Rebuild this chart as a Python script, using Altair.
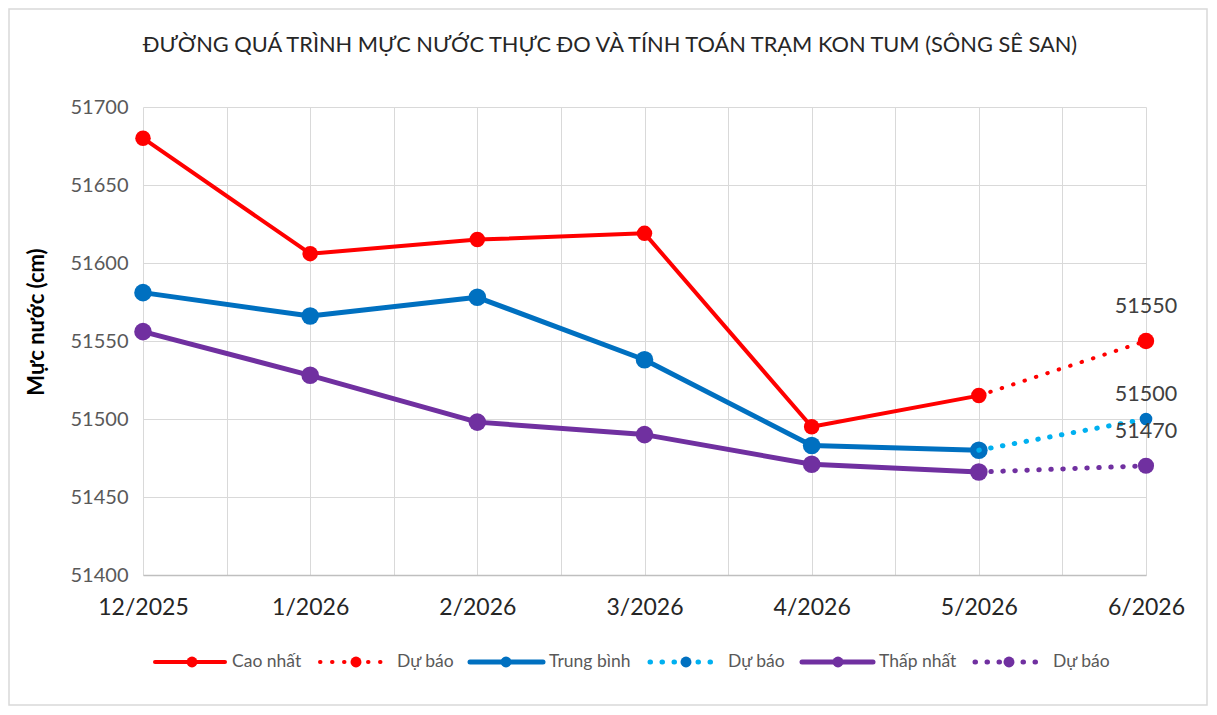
import altair as alt
import pandas as pd
import numpy as np

# ---- data ----
months = ["12/2025", "1/2026", "2/2026", "3/2026", "4/2026", "5/2026", "6/2026"]
cao_nhat = [51680, 51606, 51615, 51619, 51495, 51515]
trung_binh = [51581, 51566, 51578, 51538, 51483, 51480]
thap_nhat = [51556, 51528, 51498, 51490, 51471, 51466]
du_bao_cao = 51550
du_bao_tb = 51500
du_bao_thap = 51470
title_text = "ĐƯỜNG QUÁ TRÌNH MỰC NƯỚC THỰC ĐO VÀ TÍNH TOÁN TRẠM KON TUM (SÔNG SÊ SAN)"
y_title = "Mực nước (cm)"

FONT = "Lato"
W, H = 1003, 468

labels_js = "[" + ",".join("'" + m + "'" for m in months) + "]"
x_scale = alt.Scale(domain=[0, 6], nice=False, zero=False)
y_scale = alt.Scale(domain=[51400, 51700], nice=False, zero=False)

x_axis = alt.Axis(values=[float(v) for v in np.arange(0, 6.5, 0.5)], grid=True, gridColor="#d9d9d9",
                  gridWidth=1, domainColor="#bfbfbf", domainWidth=1.5, ticks=False,
                  labelExpr="datum.value % 1 == 0 ? " + labels_js + "[datum.value] : ''",
                  labelFont=FONT, labelFontSize=23, labelColor="#262626", labelPadding=21,
                  title=None, labelFlush=False, labelOverlap=False)
y_axis = alt.Axis(values=list(range(51400, 51701, 50)), grid=True, gridColor="#d9d9d9",
                  gridWidth=1, domain=False, ticks=False, labelFont=FONT, labelFontSize=20,
                  labelColor="#595959", labelPadding=15, title=None, format="d")


def series_df(vals, name):
    return pd.DataFrame({"idx": list(range(len(vals))), "value": vals, "series": name})


def fc_df(last, fc, name):
    return pd.DataFrame({"idx": [5, 6], "value": [last, fc], "series": name})


layers = []

# border
layers.append(alt.Chart(pd.DataFrame({"a": [0]})).mark_rect(fill=None, stroke="#d9d9d9", strokeWidth=1.5).encode(
    x=alt.value(-134), x2=alt.value(1064), y=alt.value(-98), y2=alt.value(598)))

# axes carrier
base = alt.Chart(series_df(cao_nhat, "Cao nhất"))
layers.append(base.mark_point(opacity=0).encode(
    x=alt.X("idx:Q", scale=x_scale, axis=x_axis),
    y=alt.Y("value:Q", scale=y_scale, axis=y_axis)))

specs = [
    (cao_nhat, du_bao_cao, "#FF0000", "#FF0000", "#FF0000", 4, 240, 270, "Cao nhất"),
    (trung_binh, du_bao_tb, "#0070C0", "#00B0F0", "#0070C0", 5, 310, 160, "Trung bình"),
    (thap_nhat, du_bao_thap, "#7030A0", "#7030A0", "#7030A0", 5, 310, 260, "Thấp nhất"),
]

for vals, fc, col, fcol, fmcol, w, ms, fms, name in specs:
    d = series_df(vals, name)
    f = fc_df(vals[-1], fc, name + " dự báo")
    enc = dict(x=alt.X("idx:Q", scale=x_scale), y=alt.Y("value:Q", scale=y_scale))
    layers.append(alt.Chart(d).mark_line(color=col, strokeWidth=w, strokeJoin="round",
                                         strokeCap="round").encode(**enc))
    layers.append(alt.Chart(d).mark_circle(color=col, opacity=1, size=ms).encode(**enc))
    layers.append(alt.Chart(f).mark_line(color=fcol, strokeWidth=w, strokeDash=[0.5, 11.5],
                                         strokeCap="round").encode(**enc))
    layers.append(alt.Chart(f[f.idx == 6]).mark_circle(color=fmcol, opacity=1, size=fms).encode(**enc))

# data labels on forecasts
for val, dy in [(du_bao_cao, -34), (du_bao_tb, -24), (du_bao_thap, -34)]:
    ddf = pd.DataFrame({"idx": [6], "value": [val]})
    layers.append(alt.Chart(ddf).mark_text(font=FONT, fontSize=21.5, color="#404040", dy=dy,
                                           align="center", baseline="middle").encode(
        x=alt.X("idx:Q", scale=x_scale), y=alt.Y("value:Q", scale=y_scale),
        text=alt.Text("value:Q", format="d")))

# title
one = pd.DataFrame({"t": [title_text]})
layers.append(alt.Chart(one).mark_text(font=FONT, fontSize=21.8, color="#262626", align="center",
                                       baseline="middle").encode(
    x=alt.value(467), y=alt.value(-62), text="t:N"))
# y axis title
yt = pd.DataFrame({"t": [y_title]})
layers.append(alt.Chart(yt).mark_text(font=FONT, fontSize=22, fontWeight="bold", color="#000000",
                                      angle=270, align="center", baseline="middle").encode(
    x=alt.value(-106), y=alt.value(215), text="t:N"))

# legend
LY = 555
legend_items = [
    (155, 225, 192, 232, "#FF0000", "#FF0000", False, 4, "Cao nhất"),
    (320, 387, 356, 397, "#FF0000", "#FF0000", True, 4, "Dự báo"),
    (470, 543, 506, 549, "#0070C0", "#0070C0", False, 5, "Trung bình"),
    (650, 718, 686, 728, "#00B0F0", "#0070C0", True, 5, "Dự báo"),
    (802, 873, 838, 879, "#7030A0", "#7030A0", False, 5, "Thấp nhất"),
    (975, 1043, 1009, 1053, "#7030A0", "#7030A0", True, 5, "Dự báo"),
]
for x0, x1, mx, tx, col, mcol, dotted, w, lab in legend_items:
    ld = pd.DataFrame({"t": [lab]})
    kw = dict(color=col, strokeWidth=w, strokeCap="round")
    if dotted:
        kw["strokeDash"] = [0.5, 11.5]
    layers.append(alt.Chart(ld).mark_rule(**kw).encode(
        x=alt.value(x0 - 143), x2=alt.value(x1 - 143), y=alt.value(LY)))
    layers.append(alt.Chart(ld).mark_circle(color=mcol, opacity=1, size=120).encode(
        x=alt.value(mx - 143), y=alt.value(LY)))
    layers.append(alt.Chart(ld).mark_text(font=FONT, fontSize=17.5, color="#595959", align="left",
                                          baseline="middle").encode(
        x=alt.value(tx - 143), y=alt.value(LY), text="t:N"))

chart = alt.layer(*layers).properties(
    width=W, height=H,
    padding={"left": 135, "top": 99, "right": 63, "bottom": 132},
    autosize=alt.AutoSizeParams(type="none"),
    background="white",
).configure_view(stroke=None)

chart.save("out.html", embed_options={"renderer": "svg", "actions": False})
